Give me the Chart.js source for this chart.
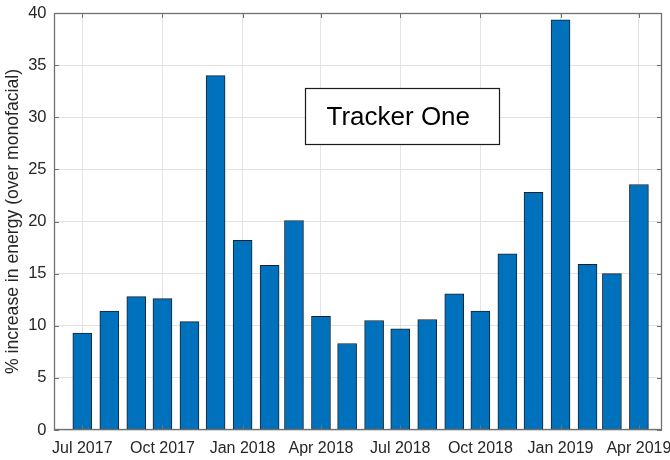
<!DOCTYPE html>
<html>
<head>
<meta charset="utf-8">
<script src="https://cdn.jsdelivr.net/npm/chart.js@4"></script>
<style>
  html, body { margin: 0; padding: 0; background: #ffffff; }
  #wrap { width: 670px; height: 460px; position: relative; }
</style>
</head>
<body>
<div id="wrap"><canvas id="c" width="670" height="460"></canvas></div>
<script>
// ---- data ----
const months = ['2017-07','2017-08','2017-09','2017-10','2017-11','2017-12',
                '2018-01','2018-02','2018-03','2018-04','2018-05','2018-06',
                '2018-07','2018-08','2018-09','2018-10','2018-11','2018-12',
                '2019-01','2019-02','2019-03','2019-04'];
const gainPct = [9.3, 11.4, 12.8, 12.6, 10.4, 34.0,
                 18.2, 15.8, 20.1, 10.9, 8.3, 10.5,
                 9.7, 10.6, 13.05, 11.4, 16.9, 22.8,
                 39.35, 15.9, 15.0, 23.55];
const tickMonths = ['2017-07','2017-10','2018-01','2018-04','2018-07','2018-10','2019-01','2019-04'];
const tickLabels = ['Jul 2017','Oct 2017','Jan 2018','Apr 2018','Jul 2018','Oct 2018','Jan 2019','Apr 2019'];
const yTicks = [0, 5, 10, 15, 20, 25, 30, 35, 40];
const yTitle = '% increase in energy (over monofacial)';
const boxText = 'Tracker One';

// ---- helpers: days since first month ----
function dayOf(m) {
  const [y, mo] = m.split('-').map(Number);
  const [y0, m0] = months[0].split('-').map(Number);
  return (Date.UTC(y, mo - 1, 1) - Date.UTC(y0, m0 - 1, 1)) / 86400000;
}
const points = months.map((m, i) => ({ x: dayOf(m), y: gainPct[i] }));
const tickDays = tickMonths.map(dayOf);

const FONT = '"Liberation Sans", Arial, Helvetica, sans-serif';
const AXIS_COLOR = '#707070';
const TEXT_COLOR = '#262626';

const framePlugin = {
  id: 'frame',
  afterDraw(chart) {
    const { ctx, chartArea: a, scales } = chart;
    ctx.save();
    // inward tick marks
    ctx.strokeStyle = AXIS_COLOR;
    ctx.lineWidth = 1;
    const tl = 5;
    ctx.beginPath();
    tickDays.forEach(d => {
      const x = Math.round(scales.x.getPixelForValue(d)) + 0.5;
      ctx.moveTo(x, a.bottom); ctx.lineTo(x, a.bottom - tl);
      ctx.moveTo(x, a.top); ctx.lineTo(x, a.top + tl);
    });
    yTicks.forEach(v => {
      const y = Math.round(scales.y.getPixelForValue(v)) + 0.5;
      ctx.moveTo(a.left, y); ctx.lineTo(a.left + tl, y);
      ctx.moveTo(a.right, y); ctx.lineTo(a.right - tl, y);
    });
    ctx.stroke();
    // box
    ctx.strokeStyle = AXIS_COLOR;
    ctx.lineWidth = 1.3;
    ctx.strokeRect(a.left + 0.5, a.top + 0.5, a.right - a.left - 1, a.bottom - a.top - 1);
    // annotation text box
    const bx = 305.5, by = 88.5, bw = 194, bh = 56;
    ctx.fillStyle = '#ffffff';
    ctx.fillRect(bx, by, bw, bh);
    ctx.strokeStyle = '#1a1a1a';
    ctx.lineWidth = 1.2;
    ctx.strokeRect(bx, by, bw, bh);
    ctx.fillStyle = '#000000';
    ctx.font = '26px ' + FONT;
    ctx.textAlign = 'left';
    ctx.textBaseline = 'alphabetic';
    ctx.fillText(boxText, 326.5, 124.5);
    ctx.restore();
  }
};

new Chart(document.getElementById('c'), {
  type: 'bar',
  data: {
    datasets: [{
      data: points,
      backgroundColor: '#0072BD',
      borderColor: '#18222b',
      borderWidth: 1,
      barThickness: 19,
      borderSkipped: false
    }]
  },
  options: {
    responsive: false,
    animation: false,
    events: [],
    layout: { padding: { top: 13, right: 8, bottom: 0, left: 0 } },
    plugins: { legend: { display: false }, tooltip: { enabled: false }, title: { display: false } },
    scales: {
      x: {
        type: 'linear',
        offset: false,
        min: -32.5,
        max: 665.5,
        grid: { color: '#e3e3e3', lineWidth: 1, drawTicks: false, offset: false },
        border: { display: false },
        afterBuildTicks(scale) { scale.ticks = tickDays.map(v => ({ value: v })); },
        ticks: {
          autoSkip: false,
          maxRotation: 0,
          padding: 8.5,
          color: TEXT_COLOR,
          font: { family: FONT, size: 16 },
          callback(value, index) { return tickLabels[index]; }
        },
        afterFit(scale) { scale.height = 30; scale.paddingLeft = 0; scale.paddingRight = 0; }
      },
      y: {
        type: 'linear',
        min: 0,
        max: 40,
        grid: { color: '#e3e3e3', lineWidth: 1, drawTicks: false },
        border: { display: false },
        afterBuildTicks(scale) { scale.ticks = yTicks.map(v => ({ value: v })); },
        ticks: {
          padding: 7.5,
          color: TEXT_COLOR,
          font: { family: FONT, size: 16.5 }
        },
        title: {
          display: true,
          text: yTitle,
          color: TEXT_COLOR,
          font: { family: FONT, size: 17.6 },
          padding: { top: 3, bottom: 0 }
        },
        afterFit(scale) { scale.width = 54; scale.paddingTop = 0; scale.paddingBottom = 0; }
      }
    }
  },
  plugins: [framePlugin]
});
</script>
</body>
</html>
